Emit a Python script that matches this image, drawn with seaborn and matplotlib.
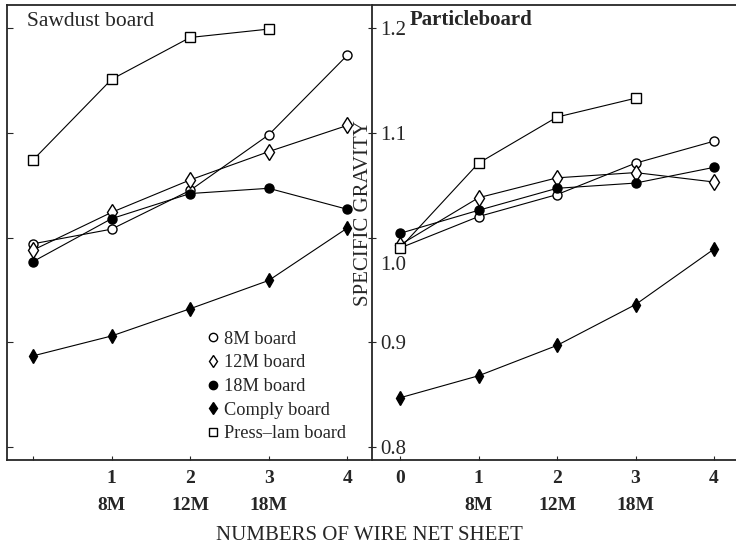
import numpy as np
import pandas as pd
import matplotlib
matplotlib.use("Agg")
import matplotlib.pyplot as plt
import matplotlib.transforms as mtransforms
import seaborn as sns
from matplotlib.lines import Line2D

# ---------------- data ----------------
x_sheets = [0, 1, 2, 3, 4]
x_presslam = [0, 1, 2, 3]
series_names = ["8M board", "12M board", "18M board", "Comply board", "Press\u2013lam board"]

sawdust_8m = [0.994, 1.008, 1.045, 1.098, 1.174]
sawdust_12m = [0.988, 1.024, 1.055, 1.082, 1.107]
sawdust_18m = [0.977, 1.018, 1.042, 1.047, 1.027]
sawdust_comply = [0.887, 0.906, 0.932, 0.959, 1.009]
sawdust_presslam = [1.074, 1.151, 1.191, 1.199]

particle_8m = [0.990, 1.020, 1.041, 1.071, 1.092]
particle_12m = [0.993, 1.038, 1.057, 1.062, 1.053]
particle_18m = [1.004, 1.026, 1.047, 1.052, 1.067]
particle_comply = [0.847, 0.868, 0.897, 0.936, 0.989]
particle_presslam = [0.990, 1.071, 1.115, 1.133]

panel_titles = ["Sawdust board", "Particleboard"]
x_tick_numbers = ["0", "1", "2", "3", "4"]
x_tick_mesh = ["8M", "12M", "18M"]
x_mesh_pos = [1, 2, 3]
y_ticks = [0.8, 0.9, 1.0, 1.1, 1.2]
y_tick_labels = ["0.8", "0.9", "1.0", "1.1", "1.2"]
x_label = "NUMBERS OF WIRE NET SHEET"
y_label = "SPECIFIC GRAVITY"

# ---------------- style ----------------
sns.set_style("ticks")
plt.rcParams["font.family"] = ["Liberation Serif", "DejaVu Serif"]
plt.rcParams["axes.linewidth"] = 1.3

marker_styles = {
    "8M board": dict(marker="o", mfc="white", ms=6.5),
    "12M board": dict(marker="d", mfc="white", ms=8.5),
    "18M board": dict(marker="o", mfc="black", ms=6.5),
    "Comply board": dict(marker="d", mfc="black", ms=7.5),
    "Press\u2013lam board": dict(marker="s", mfc="white", ms=6.5),
}

panels = [
    [sawdust_8m, sawdust_12m, sawdust_18m, sawdust_comply, sawdust_presslam],
    [particle_8m, particle_12m, particle_18m, particle_comply, particle_presslam],
]

fig = plt.figure(figsize=(7.36, 5.47), dpi=100)
ax1 = fig.add_axes([7 / 736, 87 / 547, 363 / 736, 455 / 547])
ax2 = fig.add_axes([372 / 736, 87 / 547, 364 / 736, 455 / 547])

xlims = [(-0.331, 4.29), (-0.357, 4.28)]

for ax, data, xl in zip([ax1, ax2], panels, xlims):
    for name, vals in zip(series_names, data):
        xs = x_presslam if "Press" in name else x_sheets
        df = pd.DataFrame({"x": xs, "y": vals})
        st = marker_styles[name]
        sns.lineplot(data=df, x="x", y="y", ax=ax, color="black", lw=0.8,
                     marker=st["marker"], markersize=st["ms"],
                     markerfacecolor=st["mfc"], markeredgecolor="black",
                     markeredgewidth=1.0, zorder=3)
    ax.set_xlim(*xl)
    ax.set_ylim(0.7876, 1.222)
    ax.set_xlabel("")
    ax.set_ylabel("")
    ax.set_xticks(x_sheets)
    ax.tick_params(axis="x", direction="in", length=3, pad=7, labelsize=14)
    for p, lab in zip(x_mesh_pos, x_tick_mesh):
        ax.text(p, -0.099, lab, transform=ax.get_xaxis_transform(),
                ha="center", va="center", fontsize=14, fontweight="bold")
    ax.set_yticks(y_ticks)
    ax.spines["right"].set_visible(False)

ax1.text(0.055, 0.963, panel_titles[0], transform=ax1.transAxes, fontsize=15.5,
         ha="left", va="center")
ax2.text(0.104, 0.967, panel_titles[1], transform=ax2.transAxes, fontsize=15,
         ha="left", va="center", fontweight="bold")

ax1.set_xticklabels([""] + x_tick_numbers[1:])
ax2.set_xticklabels(x_tick_numbers)
for ax in (ax1, ax2):
    for t in ax.get_xticklabels():
        t.set_fontweight("bold")

ax1.set_yticklabels([])
ax1.tick_params(axis="y", direction="in", length=4)
ax2.set_yticklabels(y_tick_labels)
ax2.tick_params(axis="y", direction="inout", length=6, pad=-9, labelsize=15)
for t in ax2.get_yticklabels():
    t.set_horizontalalignment("left")
    if t.get_text() == "1.0":
        t.set_transform(t.get_transform() +
                        mtransforms.ScaledTranslation(0, -25 / 100, fig.dpi_scale_trans))

handles = [Line2D([], [], linestyle="none", color="black",
                  marker=marker_styles[n]["marker"],
                  markerfacecolor=marker_styles[n]["mfc"],
                  markeredgecolor="black", markersize=6)
           for n in series_names]
ax1.legend(handles, series_names, loc="upper left", bbox_to_anchor=(0.53, 0.30),
           frameon=False, fontsize=13.2, handlelength=0.7, handletextpad=0.25,
           labelspacing=0.36, borderaxespad=0)

fig.text(363 / 736, 1 - 213 / 547, y_label, rotation=90, ha="center", va="center",
         fontsize=15)
fig.text(369 / 736, 1 - 535 / 547, x_label, ha="center", va="center", fontsize=15)

fig.savefig("out.png", dpi=100)
